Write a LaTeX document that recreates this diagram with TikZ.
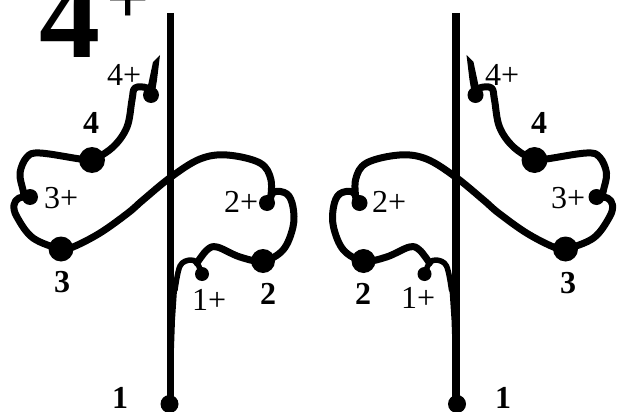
\documentclass[tikz,border=0pt]{standalone}
\usepackage{fontspec}
\setmainfont{Liberation Serif}
\tikzset{
  wire/.style={line width=7pt,line cap=round,line join=round},
  thinwire/.style={line width=5.5pt,line cap=round,line join=round},
  axis/.style={line width=7.5pt},
  lab/.style={font=\fontsize{32}{32}\selectfont,anchor=base west,inner sep=0pt},
  blab/.style={font=\fontsize{32}{32}\selectfont\bfseries,anchor=base west,inner sep=0pt},
  bigdig/.style={font=\fontsize{122}{122}\selectfont\bfseries,anchor=base west,inner sep=0pt},
  bigplus/.style={font=\fontsize{76}{76}\selectfont\bfseries,anchor=base west,inner sep=0pt},
}
\newcommand{\halfdrawing}{%
  \draw[axis] (170.5,13) -- (170.5,404);
  \fill (168,404) -- (168,300) -- (172,285) -- (177,290) -- (175,320) -- (172,404) -- cycle;
  \draw[thinwire] plot[smooth,tension=0.6] coordinates {(175,290) (180,266) (190,260) (197,263) (202,274)};
  \draw[wire] plot[smooth,tension=0.6] coordinates {(197,263) (207,250) (217,247) (240,257) (263,261) (283,250) (293,227) (293,207) (287,194) (274,192) (268,203)};
  \draw[wire] plot[smooth,tension=0.6] coordinates {(270,203) (271,180) (260,163) (227,155) (200,159) (171,177) (143,200) (128,213) (100,233) (73,247) (61,249) (33,238) (17,217) (14,205) (19,198) (30,197)};
  \draw[wire] plot[smooth,tension=0.6] coordinates {(25,198) (23,190) (20,173) (27,157) (40,153) (80,159) (92,160) (113,147) (127,127) (132,100) (135,88) (147,88) (151,95)};
  \fill (147,90) -- (153,62) -- (160,55) -- (157,80) -- (155,92) -- cycle;
  \fill (169.5,404) circle (9);
  \fill (202,274) circle (7);
  \fill (263,261) circle (12);
  \fill (267,203) circle (8);
  \fill (61,249) circle (12.5);
  \fill (30,197) circle (8);
  \fill (92,160) circle (13);
  \fill (151,95) circle (8);
}
\begin{document}
\begin{tikzpicture}[x=1pt,y=-1pt]
  \useasboundingbox (0,0) rectangle (621,412);
  \clip (0,0) rectangle (621,412);
  \halfdrawing
  \begin{scope}[xshift=626.5pt,xscale=-1]
    \halfdrawing
  \end{scope}
  \node[bigdig] (big) at (39,58) {4};
  \node[bigplus] (bigp) at (106,24) {+};
  \node[lab] (lf) at (107,85) {4+};
  \node[lab] (lt) at (44,208) {3+};
  \node[lab] (ls) at (224,212) {2+};
  \node[lab] (lo) at (192,310) {1+};
  \node[blab] (bf) at (83,133) {4};
  \node[blab] (bt) at (54,292) {3};
  \node[blab] (bs) at (260,304) {2};
  \node[blab] (bo) at (112,408) {1};
  \node[lab] (rf) at (485,85) {4+};
  \node[lab] (rt) at (551,208) {3+};
  \node[lab] (rs) at (372,212) {2+};
  \node[lab] (ro) at (401,308) {1+};
  \node[blab] (cf) at (531,133) {4};
  \node[blab] (ct) at (560,293) {3};
  \node[blab] (cs) at (355,304) {2};
  \node[blab] (co) at (495,408) {1};
\end{tikzpicture}
\end{document}
